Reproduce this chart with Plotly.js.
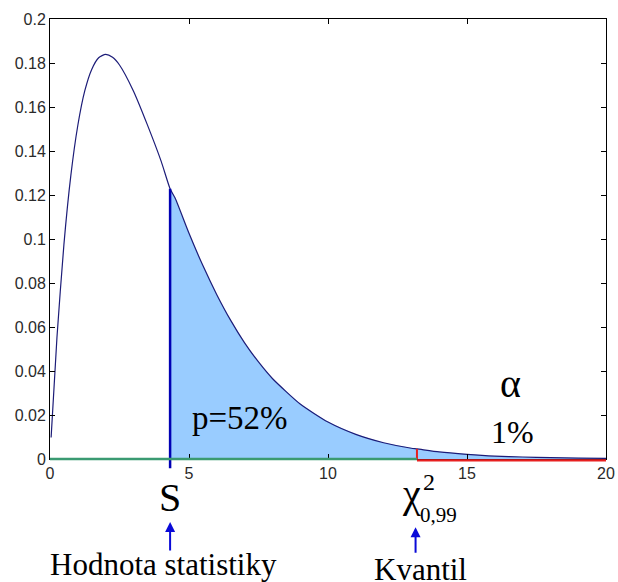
<!DOCTYPE html>
<html>
<head>
<meta charset="utf-8">
<script src="https://cdn.plot.ly/plotly-3.0.1.min.js"></script>
<style>
html,body{margin:0;padding:0;background:#fff;}
#chart{width:618px;height:582px;}
</style>
</head>
<body>
<div id="chart"></div>
<script>
// Density curve
const curveX = [0.04, 0.25, 0.5, 0.75, 1, 1.25, 1.5, 1.75, 2, 2.25, 2.5, 3, 3.5, 4, 4.32, 4.5, 5, 5.5, 6, 6.5, 7, 7.5, 8, 9, 10, 11, 12, 13, 13.2, 14, 15, 16, 17, 18, 19, 20];
const curveY = [0.0098, 0.0552, 0.0974, 0.1289, 0.1516, 0.1673, 0.1771, 0.1824, 0.1839, 0.1826, 0.1791, 0.1673, 0.1520, 0.1353, 0.1228, 0.1186, 0.1026, 0.0879, 0.0747, 0.0630, 0.0528, 0.0441, 0.0366, 0.0250, 0.0168, 0.0112, 0.0074, 0.0049, 0.0046, 0.0032, 0.0021, 0.0013, 0.0009, 0.0006, 0.0004, 0.0003];
// Key values
const statS = 4.32;        // test statistic S
const statSHeight = 0.1228;
const quantile = 13.2;     // chi^2 0.99 quantile
const quantileHeight = 0.0046;
const xMax = 20;
const yMax = 0.2;
const xTicks = [0, 5, 10, 15, 20];
const yTicks = [0, 0.02, 0.04, 0.06, 0.08, 0.1, 0.12, 0.14, 0.16, 0.18, 0.2];
const yTickText = ['0', '0.02', '0.04', '0.06', '0.08', '0.1', '0.12', '0.14', '0.16', '0.18', '0.2'];

const fillX = [], fillY = [];
for (let i = 0; i < curveX.length; i++) {
  if (curveX[i] >= statS) { fillX.push(curveX[i]); fillY.push(curveY[i]); }
}

const traces = [
  {x: fillX, y: fillY, type: 'scatter', mode: 'lines', fill: 'tozeroy',
   fillcolor: '#99CCFF', line: {width: 0, color: '#99CCFF'}, hoverinfo: 'skip'},
  {x: curveX, y: curveY, type: 'scatter', mode: 'lines',
   line: {color: '#1c1c78', width: 1.2, shape: 'spline', smoothing: 0.6}, hoverinfo: 'skip'},
  {x: [quantile, quantile], y: [0, quantileHeight], type: 'scatter', mode: 'lines',
   line: {color: '#e82020', width: 2}, hoverinfo: 'skip'}
];

const serifFamily = 'Liberation Serif';
const tickFont = {family: 'Liberation Sans', size: 16, color: '#2a2a2a'};
const blue = '#0a0ad8';

const shapes = [
  {type: 'line', xref: 'x', yref: 'paper', x0: statS, x1: statS, y0: -0.021, y1: statSHeight / yMax,
   line: {color: '#0000b4', width: 2.5}, layer: 'above'},
  {type: 'line', xref: 'x', yref: 'paper', x0: 0, x1: quantile, y0: 0, y1: 0,
   line: {color: '#3a9a72', width: 2.5}, layer: 'above'},
  {type: 'line', xref: 'x', yref: 'paper', x0: quantile, x1: xMax, y0: -0.003, y1: -0.003,
   line: {color: '#e82020', width: 2.2}, layer: 'above'}
];

function txt(xref, yref, x, y, text, size) {
  return {xref: xref, yref: yref, x: x, y: y, text: text,
          showarrow: false, xanchor: 'center', yanchor: 'middle',
          font: {family: serifFamily, size: size, color: '#000'}};
}

const annotations = [
  txt('x', 'y', 6.85, 0.0185, 'p=52%', 33),
  txt('x', 'y', 16.55, 0.0345, 'α', 40),
  txt('x', 'y', 16.65, 0.0125, '1%', 32),
  txt('x', 'paper', statS, -0.088, 'S', 40),
  txt('x', 'paper', quantile - 0.2, -0.078, 'χ', 40),
  txt('x', 'paper', quantile + 0.45, -0.052, '2', 24),
  txt('x', 'paper', quantile + 0.76, -0.128, '0,99', 21),
  txt('paper', 'paper', (163.5 - 50) / 556, -0.24, 'Hodnota statistiky', 31),
  txt('x', 'paper', quantile + 0.13, -0.252, 'Kvantil', 31),
  {xref: 'x', yref: 'paper', x: statS, y: -0.143, text: '', showarrow: true, ax: 0, ay: 30,
   xanchor: 'center', yanchor: 'middle',
   arrowcolor: blue, arrowwidth: 2, arrowhead: 2, arrowsize: 1, standoff: 0, font: {family: serifFamily, size: 1}},
  {xref: 'x', yref: 'paper', x: quantile - 0.05, y: -0.155, text: '', showarrow: true, ax: 0, ay: 27,
   xanchor: 'center', yanchor: 'middle',
   arrowcolor: blue, arrowwidth: 2, arrowhead: 2, arrowsize: 1, standoff: 0, font: {family: serifFamily, size: 1}}
];

const layout = {
  width: 618, height: 582,
  margin: {l: 50, r: 12, t: 19, b: 123},
  paper_bgcolor: '#fff', plot_bgcolor: '#fff',
  showlegend: false,
  font: {family: serifFamily, size: 16, color: '#000'},
  xaxis: {range: [0, xMax], tickvals: xTicks, ticktext: xTicks.map(String), ticks: 'inside', ticklen: 5,
          tickfont: tickFont,
          tickcolor: '#000', showline: true, linecolor: '#000', linewidth: 1, mirror: 'ticks',
          showgrid: false, zeroline: false, fixedrange: true},
  yaxis: {range: [0, yMax], tickvals: yTicks, ticktext: yTickText, ticks: 'inside', ticklen: 5,
          tickfont: tickFont,
          tickcolor: '#000', showline: true, linecolor: '#000', linewidth: 1, mirror: 'ticks',
          showgrid: false, zeroline: false, fixedrange: true},
  shapes: shapes,
  annotations: annotations
};

Plotly.newPlot('chart', traces, layout, {staticPlot: true});
</script>
</body>
</html>
